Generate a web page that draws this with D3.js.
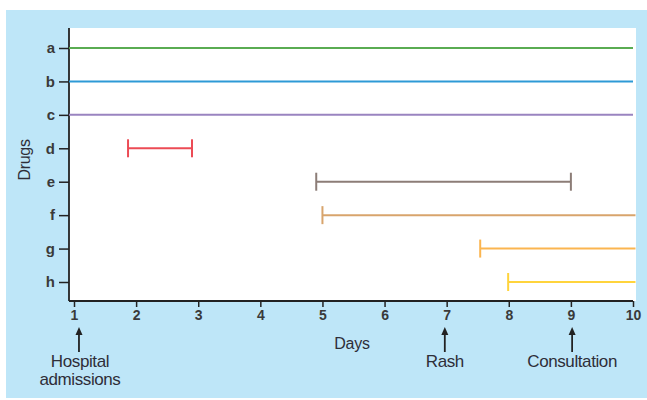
<!DOCTYPE html>
<html><head><meta charset="utf-8">
<script src="https://cdn.jsdelivr.net/npm/d3@7"></script>
<style>body{margin:0;background:#fff;} svg{display:block;font-family:"Liberation Sans",Arial,sans-serif;}</style>
</head><body><svg id="c" width="647" height="400"></svg>
<script>
const drugs = ["a","b","c","d","e","f","g","h"];
const starts = [0.92, 0.92, 0.92, 1.87, 4.9, 5.0, 7.54, 7.99];
const ends = [10, 10, 10, 2.9, 9.0, 10.04, 10.04, 10.04];
const startCaps = [false, false, false, true, true, true, true, true];
const endCaps = [false, false, false, true, true, false, false, false];
const colors = ["#5aac52","#2e9ad6","#9a84c0","#ec4b55","#8c7d77","#d8a46c","#fbb550","#ffd43c"];
const dayTicks = [1,2,3,4,5,6,7,8,9,10];
const events = [{day:1.08, lines:["Hospital","admissions"]},{day:6.97, lines:["Rash"]},{day:9.02, lines:["Consultation"]}];

const svg = d3.select("#c");
svg.append("rect").attr("x",6).attr("y",10).attr("width",641).attr("height",388).attr("fill","#bee6f8");
const plotL = 69, plotR = 636, plotT = 28, plotB = 301;
svg.append("rect").attr("x",plotL).attr("y",plotT).attr("width",plotR-plotL).attr("height",plotB-plotT).attr("fill","#fff");

const x = d3.scaleLinear().domain([1,10]).range([74,633]);
const y = d3.scalePoint().domain(drugs).range([48,282]);
const txt = "#2e2e38";

// x axis
const xa = svg.append("g").attr("transform",`translate(0,${plotB})`)
  .call(d3.axisBottom(x).tickValues(dayTicks).tickSize(6).tickSizeOuter(0).tickPadding(3));
xa.select(".domain").attr("d",`M${plotL},0H${x(10)}`).attr("stroke","#222").attr("stroke-width",1.8);
xa.selectAll(".tick line").attr("stroke","#222").attr("stroke-width",1.5);
xa.selectAll(".tick text").attr("font-size",14).attr("font-weight","bold").attr("fill","#3a3a3a").attr("font-family","Liberation Sans, Arial, sans-serif");

// y axis
const ya = svg.append("g").attr("transform",`translate(${plotL},0)`)
  .call(d3.axisLeft(y).tickSize(10).tickSizeOuter(0).tickPadding(4));
ya.select(".domain").attr("d",`M0,${plotT}V${plotB}`).attr("stroke","#222").attr("stroke-width",1.8);
ya.selectAll(".tick line").attr("stroke","#222").attr("stroke-width",1.5);
ya.selectAll(".tick text").attr("font-size",15).attr("font-weight","bold").attr("fill","#3a3a3a").attr("font-family","Liberation Sans, Arial, sans-serif");

// lines
const capH = 9;
drugs.forEach((d,i)=>{
  const g = svg.append("g").attr("stroke",colors[i]).attr("stroke-width",2).attr("fill","none");
  g.append("line").attr("x1",x(starts[i])).attr("x2",x(ends[i])).attr("y1",y(d)).attr("y2",y(d));
  if(startCaps[i]) g.append("line").attr("x1",x(starts[i])).attr("x2",x(starts[i])).attr("y1",y(d)-capH).attr("y2",y(d)+capH);
  if(endCaps[i]) g.append("line").attr("x1",x(ends[i])).attr("x2",x(ends[i])).attr("y1",y(d)-capH).attr("y2",y(d)+capH);
});

// axis titles
svg.append("text").attr("x",352).attr("y",349).attr("text-anchor","middle").attr("font-size",16).attr("letter-spacing","-0.3").attr("fill",txt).text("Days");
svg.append("text").attr("transform","translate(30,160) rotate(-90)").attr("text-anchor","middle").attr("font-size",16).attr("letter-spacing","-0.3").attr("fill",txt).text("Drugs");

// events
events.forEach(e=>{
  const ex = x(e.day);
  svg.append("line").attr("x1",ex).attr("x2",ex).attr("y1",333).attr("y2",352).attr("stroke","#222").attr("stroke-width",1.8);
  svg.append("path").attr("d",`M${ex-3.5},${335}L${ex},${327}L${ex+3.5},${335}Z`).attr("fill","#222");
  e.lines.forEach((t,k)=>{
    svg.append("text").attr("x",ex + (e.lines.length>1?1:0)).attr("y",367+k*18).attr("text-anchor","middle").attr("font-size",17).attr("fill",txt).attr("letter-spacing","-0.4").text(t);
  });
});
</script></body></html>
